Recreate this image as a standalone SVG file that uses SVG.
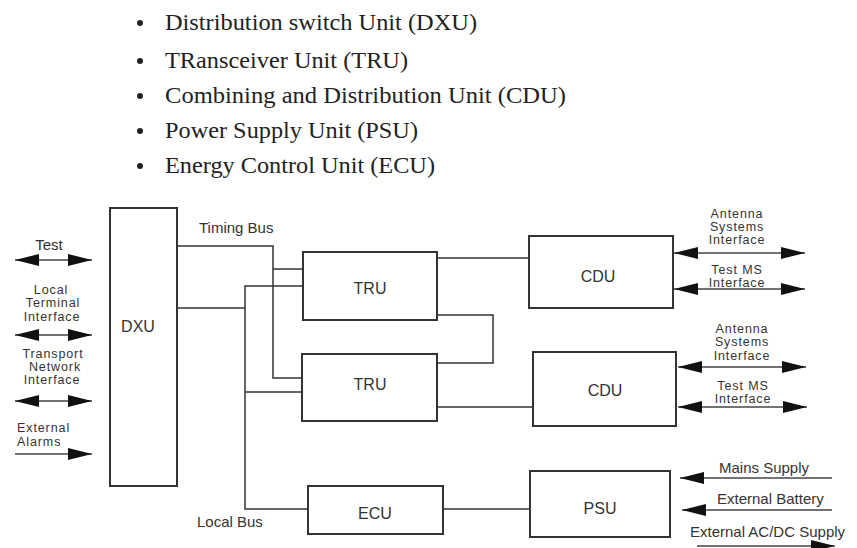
<svg xmlns="http://www.w3.org/2000/svg" width="857" height="548" viewBox="0 0 857 548">
<defs>
<marker id="ah" markerUnits="userSpaceOnUse" markerWidth="24" markerHeight="12" refX="24" refY="6" orient="auto-start-reverse">
<path d="M0,0 L24,6 L0,12 z" fill="#111"/>
</marker>
<style>
.box{fill:#fff;stroke:#333;stroke-width:2}
.ln{fill:none;stroke:#333;stroke-width:1.5}
.ar{fill:none;stroke:#444;stroke-width:1.5}
.lbl{font-family:"Liberation Sans",Arial,sans-serif;font-size:16px;fill:#333;text-anchor:middle}
.sm{font-family:"Liberation Sans",Arial,sans-serif;font-size:15px;fill:#333}
.ml{font-family:"Liberation Sans",Arial,sans-serif;font-size:12.5px;letter-spacing:0.9px;fill:#333}
.mid{text-anchor:middle}
.bl{font-family:"Liberation Serif","Times New Roman",serif;font-size:22.5px;fill:#222}
</style>
</defs>
<rect width="857" height="548" fill="#fff"/>

<g id="bullets">
<circle cx="140" cy="23" r="3" fill="#222"/>
<text class="bl" x="165" y="30" textLength="312" lengthAdjust="spacingAndGlyphs">Distribution switch Unit (DXU)</text>
<circle cx="140" cy="61" r="3" fill="#222"/>
<text class="bl" x="165" y="68" textLength="243" lengthAdjust="spacingAndGlyphs">TRansceiver Unit (TRU)</text>
<circle cx="140" cy="96" r="3" fill="#222"/>
<text class="bl" x="165" y="103" textLength="401" lengthAdjust="spacingAndGlyphs">Combining and Distribution Unit (CDU)</text>
<circle cx="140" cy="131" r="3" fill="#222"/>
<text class="bl" x="165" y="138" textLength="253" lengthAdjust="spacingAndGlyphs">Power Supply Unit (PSU)</text>
<circle cx="140" cy="166" r="3" fill="#222"/>
<text class="bl" x="165" y="173" textLength="270" lengthAdjust="spacingAndGlyphs">Energy Control Unit (ECU)</text>
</g>

<g id="connectors">
<polyline class="ln" points="177,246 273,246 273,378 302,378"/>
<line class="ln" x1="273" y1="269" x2="303" y2="269"/>
<line class="ln" x1="177" y1="308" x2="245" y2="308"/>
<polyline class="ln" points="303,286 245,286 245,509 308,509"/>
<line class="ln" x1="245" y1="392" x2="302" y2="392"/>
<line class="ln" x1="437" y1="258" x2="529" y2="258"/>
<polyline class="ln" points="437,315 493,315 493,363 437,363"/>
<line class="ln" x1="437" y1="407" x2="533" y2="407"/>
<line class="ln" x1="443" y1="509" x2="530" y2="509"/>
<line class="ar" x1="15" y1="260" x2="92" y2="260" marker-start="url(#ah)" marker-end="url(#ah)"/>
<line class="ar" x1="15" y1="335" x2="92" y2="335" marker-start="url(#ah)" marker-end="url(#ah)"/>
<line class="ar" x1="15" y1="401" x2="92" y2="401" marker-start="url(#ah)" marker-end="url(#ah)"/>
<line class="ar" x1="15" y1="454" x2="92" y2="454" marker-end="url(#ah)"/>
<line class="ar" x1="674" y1="253" x2="805" y2="253" marker-start="url(#ah)" marker-end="url(#ah)"/>
<line class="ar" x1="674" y1="289" x2="805" y2="289" marker-start="url(#ah)" marker-end="url(#ah)"/>
<line class="ar" x1="678" y1="367" x2="806" y2="367" marker-start="url(#ah)" marker-end="url(#ah)"/>
<line class="ar" x1="678" y1="407" x2="807" y2="407" marker-start="url(#ah)" marker-end="url(#ah)"/>
<line class="ar" x1="832" y1="478" x2="680" y2="478" marker-end="url(#ah)"/>
<line class="ar" x1="832" y1="510" x2="682" y2="510" marker-end="url(#ah)"/>
<line class="ar" x1="697" y1="546" x2="835" y2="546" marker-end="url(#ah)"/>
</g>

<g id="labels">
<text class="sm" x="199" y="233">Timing Bus</text>
<text class="sm" x="197" y="527">Local Bus</text>
<text class="sm mid" x="49" y="250">Test</text>
<text class="ml mid" x="51" y="294">Local</text>
<text class="ml mid" x="53" y="307">Terminal</text>
<text class="ml mid" x="52" y="321">Interface</text>
<text class="ml mid" x="53" y="358">Transport</text>
<text class="ml mid" x="55" y="371">Network</text>
<text class="ml mid" x="52" y="384">Interface</text>
<text class="ml" x="17" y="432">External</text>
<text class="ml" x="17" y="446">Alarms</text>
<text class="ml mid" x="737" y="218">Antenna</text>
<text class="ml mid" x="737" y="231">Systems</text>
<text class="ml mid" x="737" y="244">Interface</text>
<text class="ml mid" x="737" y="274">Test MS</text>
<text class="ml mid" x="737" y="287">Interface</text>
<text class="ml mid" x="742" y="333">Antenna</text>
<text class="ml mid" x="742" y="346">Systems</text>
<text class="ml mid" x="742" y="360">Interface</text>
<text class="ml mid" x="743" y="390">Test MS</text>
<text class="ml mid" x="743" y="403">Interface</text>
<text class="sm" x="719" y="473">Mains Supply</text>
<text class="sm" x="717" y="504">External Battery</text>
<text class="sm" x="690" y="537">External AC/DC Supply</text>
</g>

<g id="DXU"><rect class="box" x="110" y="208" width="67" height="278"/><text class="lbl" x="138" y="332">DXU</text></g>
<g id="TRU1"><rect class="box" x="303" y="252" width="134" height="68"/><text class="lbl" x="370" y="294">TRU</text></g>
<g id="TRU2"><rect class="box" x="302" y="354" width="135" height="67"/><text class="lbl" x="370" y="390">TRU</text></g>
<g id="ECU"><rect class="box" x="308" y="486" width="135" height="48"/><text class="lbl" x="375" y="519">ECU</text></g>
<g id="CDU1"><rect class="box" x="529" y="236" width="144" height="72"/><text class="lbl" x="598" y="282">CDU</text></g>
<g id="CDU2"><rect class="box" x="533" y="352" width="143" height="74"/><text class="lbl" x="605" y="396">CDU</text></g>
<g id="PSU"><rect class="box" x="530" y="471" width="140" height="66"/><text class="lbl" x="600" y="514">PSU</text></g>
</svg>
